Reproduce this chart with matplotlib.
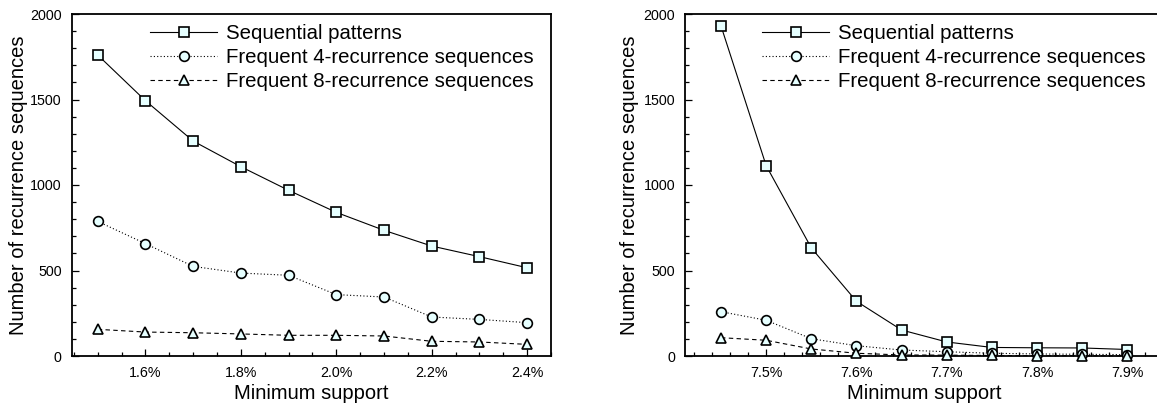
import matplotlib
matplotlib.use("Agg")
import matplotlib.pyplot as plt
from matplotlib.ticker import MultipleLocator, FormatStrFormatter

plt.rcParams['font.family'] = ['Liberation Sans', 'DejaVu Sans']

# ---- data ----
left_support = [1.5, 1.6, 1.7, 1.8, 1.9, 2.0, 2.1, 2.2, 2.3, 2.4]
left_seq = [1760, 1493, 1257, 1107, 969, 840, 735, 643, 581, 516]
left_rec4 = [787, 657, 524, 485, 472, 359, 345, 228, 214, 195]
left_rec8 = [156, 140, 136, 129, 121, 121, 117, 86, 82, 68]

right_support = [7.45, 7.5, 7.55, 7.6, 7.65, 7.7, 7.75, 7.8, 7.85, 7.9]
right_seq = [1930, 1113, 632, 320, 152, 82, 50, 48, 47, 38]
right_rec4 = [259, 209, 101, 60, 35, 25, 16, 12, 10, 8]
right_rec8 = [107, 92, 41, 16, 6, 5, 3, 2, 2, 1]

series_labels = ["Sequential patterns",
                 "Frequent 4-recurrence sequences",
                 "Frequent 8-recurrence sequences"]

W, H = 1157, 403
fig = plt.figure(figsize=(W / 100, H / 100), dpi=100)

fill = '#e6ffff'
styles = [dict(marker='s', linestyle='-', markersize=6.6),
          dict(marker='o', linestyle=(0, (1, 2)), markersize=7.0),
          dict(marker='^', linestyle=(0, (4, 3)), markersize=7.4)]


def draw(ax, x, ys, xlim, major, minor, legend_anchor, ylab_x, xlab_x):
    for y, st, lab in zip(ys, styles, series_labels):
        ax.plot(x, y, color='black', linewidth=0.8,
                markerfacecolor=fill, markeredgecolor='black',
                markeredgewidth=1.2, label=lab, clip_on=False, zorder=3,
                **st)
    ax.set_xlim(*xlim)
    ax.set_ylim(0, 2000)
    ax.xaxis.set_major_locator(MultipleLocator(major))
    ax.xaxis.set_minor_locator(MultipleLocator(minor))
    ax.xaxis.set_major_formatter(FormatStrFormatter('%.1f%%'))
    ax.yaxis.set_major_locator(MultipleLocator(500))
    ax.yaxis.set_minor_locator(MultipleLocator(100))
    ax.tick_params(which='both', direction='in', top=False, right=False,
                   labelsize=10.3, width=0.9)
    ax.tick_params(which='major', length=5, pad=7)
    ax.tick_params(which='minor', length=3)
    for sp in ax.spines.values():
        sp.set_linewidth(1.3)
    ax.set_xlabel("Minimum support", fontsize=14.5)
    ax.set_ylabel("Number of recurrence sequences", fontsize=14.5)
    ax.yaxis.set_label_coords(ylab_x, 0.5)
    ax.xaxis.set_label_coords(xlab_x, -0.083)
    ax.legend(loc='upper left', bbox_to_anchor=legend_anchor, frameon=False,
              fontsize=14.7, handlelength=3.3, handletextpad=0.4,
              labelspacing=0.25, borderpad=0, borderaxespad=0)


# left panel geometry (pixels)
lx0, lx1, ytop, ybot = 71.5, 551, 14, 356
axL = fig.add_axes([lx0 / W, (H - ybot) / H, (lx1 - lx0) / W, (ybot - ytop) / H])
draw(axL, left_support, [left_seq, left_rec4, left_rec8], (1.445, 2.45), 0.2, 0.05,
     ((150 - lx0) / (lx1 - lx0), 1 - (24 - ytop) / (ybot - ytop)),
     (28 - lx0) / (lx1 - lx0), 0.5)

# right panel geometry: spine beyond the figure edge
rx0 = 684.9
px_per_unit = 903.0
rxlim = (7.41, 7.96)
rx1 = rx0 + (rxlim[1] - rxlim[0]) * px_per_unit
axR = fig.add_axes([rx0 / W, (H - ybot) / H, (rx1 - rx0) / W, (ybot - ytop) / H])
draw(axR, right_support, [right_seq, right_rec4, right_rec8], rxlim, 0.1, 0.02,
     ((762 - rx0) / (rx1 - rx0), 1 - (24 - ytop) / (ybot - ytop)),
     (639 - rx0) / (rx1 - rx0), (924 - rx0) / (rx1 - rx0))

fig.savefig("out.png", dpi=100)
